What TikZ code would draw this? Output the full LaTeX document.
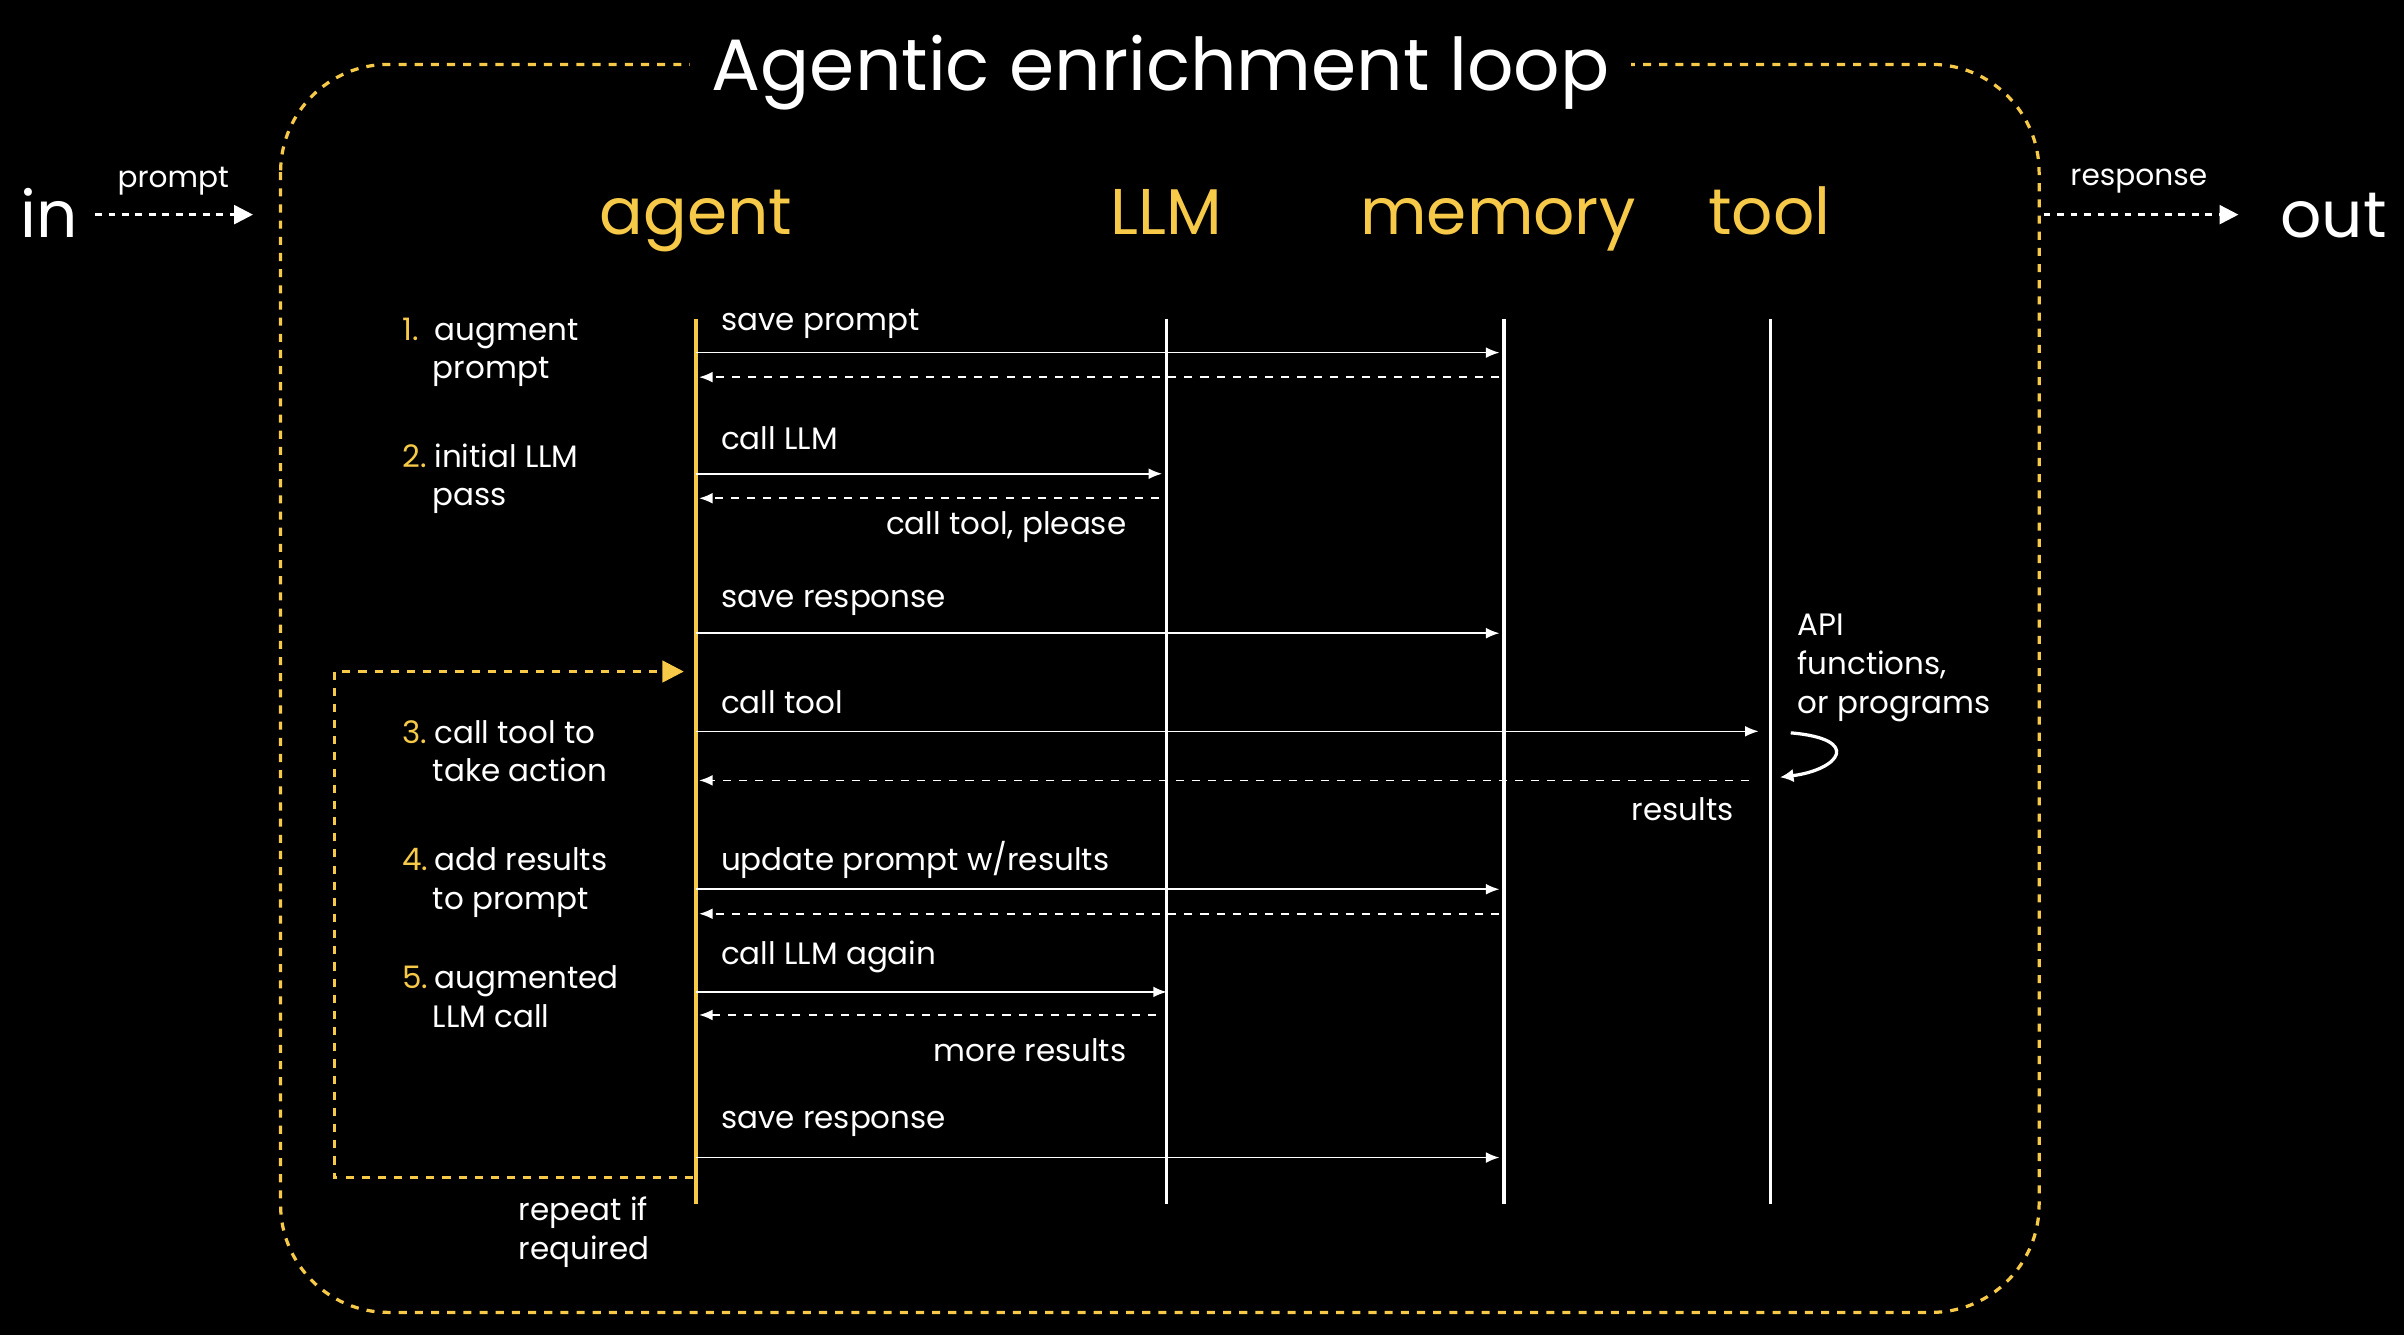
\documentclass[tikz,border=0pt]{standalone}
\usepackage{fontspec}
\setmainfont{Poppins}
\usetikzlibrary{arrows.meta}
\definecolor{gold}{HTML}{F7C948}
\tikzset{
  lbl/.style={text=white, font=\fontsize{11.5}{14.5}\selectfont, inner sep=0pt},
  lblL/.style={lbl, anchor=west},
  lblR/.style={lbl, anchor=east},
  head/.style={text=gold, font=\fontsize{24}{29}\selectfont, inner sep=0pt, anchor=base},
  life/.style={white, line width=1.2pt},
  msg/.style={white, line width=0.6pt, -{Latex[length=5pt,width=4pt]}},
  ret/.style={white, line width=0.6pt, dashed, dash pattern=on 3pt off 3pt, -{Latex[length=5pt,width=4pt]}},
  num/.style={text=gold, font=\fontsize{11.5}{14.5}\selectfont, inner sep=0pt, anchor=base west}
}
\begin{document}
\begin{tikzpicture}[x=0.02cm, y=-0.02cm]
\fill[black] (0,0) rectangle (1568,871);
\useasboundingbox (0,0) rectangle (1568,871);
% frame
\draw[gold, line width=1.2pt, dash pattern=on 3pt off 3pt, rounded corners=40pt] (183,42) rectangle (1330,856);
\node[fill=black, text=white, font=\fontsize{27}{32}\selectfont, inner xsep=8pt, anchor=base] (title) at (757,59) {Agentic enrichment loop};
% in / out
\node[text=white, font=\fontsize{24}{28}\selectfont, inner sep=0pt, anchor=base] (in) at (32,155) {in};
\coordinate (inend) at (165,140);
\draw[white, line width=1pt, dash pattern=on 2.5pt off 2.5pt, -{Triangle[length=7pt,width=7pt]}] (62,140) -- (inend);
\node[lbl, font=\fontsize{11}{13}\selectfont] (prompt) at (113,118) {prompt};
\node[text=white, font=\fontsize{24}{28}\selectfont, inner sep=0pt, anchor=base] (out) at (1522,155) {out};
\coordinate (outstart) at (1333,140);
\draw[white, line width=1pt, dash pattern=on 2.5pt off 2.5pt, -{Triangle[length=7pt,width=7pt]}] (outstart) -- (1460,140);
\node[lbl, font=\fontsize{11}{13}\selectfont] (response) at (1395,118) {response};
% headers and lifelines
\node[head] (agent) at (454,153) {agent};
\node[head] (llm) at (761,153) {LLM};
\node[head] (memory) at (977,153) {memory};
\node[head] (tool) at (1154,153) {tool};
\draw[gold, line width=1.4pt] (454,208) -- (454,785);
\draw[life] (761,208) -- (761,785);
\draw[life] (981,208) -- (981,785);
\draw[life] (1155,208) -- (1155,785);
% steps
\foreach \n/\y/\a/\b in {1./217/augment/prompt, 2./300/initial LLM/pass, 3./480/call tool to/take action, 4./563/add results/to prompt, 5./640/augmented/LLM call}{
  \node[num] at (262,\y+5) {\n};
  \node[lbl, anchor=base west] at (283,\y+5) {\a};
  \node[lbl, anchor=base west] at (282,\y+30) {\b};
}
% messages
\node[lblL] (m1) at (470,211) {save prompt};
\draw[msg] (454,230) -- (978,230);
\draw[ret] (978,246) -- (456,246);
\node[lblL] (m2) at (470,286) {call LLM};
\draw[msg] (454,309) -- (758,309);
\draw[ret] (756,325) -- (456,325);
\node[lblR] (r2) at (735,344) {call tool, please};
\node[lblL] (m3) at (470,393) {save response};
\draw[msg] (454,413) -- (978,413);
\node[lblL] (m4) at (470,458) {call tool};
\draw[msg] (454,477) -- (1147,477);
\draw[ret] (1141,509) -- (456,509);
\node[lblR] (r4) at (1131,528) {results};
\node[lblL] (m5) at (470,561) {update prompt w/results};
\draw[msg] (454,580) -- (978,580);
\draw[ret] (978,596) -- (456,596);
\node[lblL] (m6) at (470,624) {call LLM again};
\draw[msg] (454,647) -- (761,647);
\draw[ret] (754,662) -- (456,662);
\node[lblR] (r6) at (735,685) {more results};
\node[lblL] (m7) at (470,733) {save response};
\draw[msg] (454,755) -- (978,755);
% tool note
\node[lbl, anchor=north west, align=left] (api) at (1172,400) {API\\functions,\\or programs};
\draw[white, line width=1.2pt, -{Latex[length=5pt,width=5pt]}] (1168,478) .. controls (1215,482) and (1200,502) .. (1161,507);
% repeat loop
\draw[gold, line width=1.2pt, dash pattern=on 3pt off 3pt, -{Triangle[length=8pt,width=8pt]}] (452,768) -- (218,768) -- (218,438) -- (446,438);
\node[lbl, anchor=north west, align=left] (repeat) at (338,780) {repeat if\\required};
\end{tikzpicture}
\end{document}
